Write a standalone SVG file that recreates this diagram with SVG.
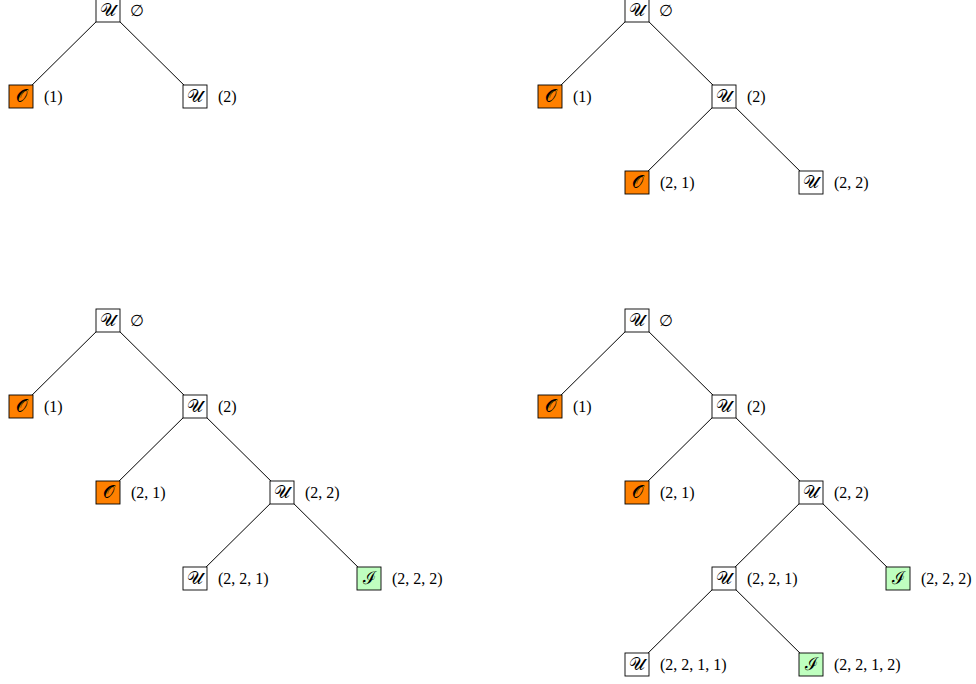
<svg xmlns="http://www.w3.org/2000/svg" width="976" height="684" viewBox="0 0 976 684">
<defs>
<style>
.e{stroke:#000;stroke-width:1;fill:none}
.b{fill:#fff;stroke:#000;stroke-width:0.9}
.o{fill:#ff8000;stroke:#000;stroke-width:0.9}
.g{fill:#bfffbf;stroke:#000;stroke-width:0.9}
.s{font-family:"DejaVu Serif","Liberation Serif",serif;font-size:18px;text-anchor:middle}
.l{font-family:"Liberation Serif","DejaVu Serif",serif;font-size:16px}
</style>
</defs>
<rect width="976" height="684" fill="#fff"/>
<g id="connectors">
<line class="e" x1="108" y1="10" x2="21" y2="96"/>
<line class="e" x1="108" y1="10" x2="195" y2="96"/>
<line class="e" x1="637" y1="10" x2="550" y2="96"/>
<line class="e" x1="637" y1="10" x2="724" y2="96"/>
<line class="e" x1="724" y1="96" x2="637" y2="182"/>
<line class="e" x1="724" y1="96" x2="811" y2="182"/>
<line class="e" x1="108" y1="320" x2="21" y2="406"/>
<line class="e" x1="108" y1="320" x2="195" y2="406"/>
<line class="e" x1="195" y1="406" x2="108" y2="492"/>
<line class="e" x1="195" y1="406" x2="282" y2="492"/>
<line class="e" x1="282" y1="492" x2="195" y2="578"/>
<line class="e" x1="282" y1="492" x2="369" y2="578"/>
<line class="e" x1="637" y1="320" x2="550" y2="406"/>
<line class="e" x1="637" y1="320" x2="724" y2="406"/>
<line class="e" x1="724" y1="406" x2="637" y2="492"/>
<line class="e" x1="724" y1="406" x2="811" y2="492"/>
<line class="e" x1="811" y1="492" x2="724" y2="578"/>
<line class="e" x1="811" y1="492" x2="898" y2="578"/>
<line class="e" x1="724" y1="578" x2="637" y2="664"/>
<line class="e" x1="724" y1="578" x2="811" y2="664"/>
</g>
<!-- tree 1 -->
<g id="t1-root"><rect class="b" x="96" y="-1" width="24" height="23"/><text class="s" x="108" y="16">𝒰</text><text class="l" x="130" y="16">∅</text></g>
<g id="t1-n1"><rect class="o" x="9" y="85" width="24" height="23"/><text class="s" x="21" y="102">𝒪</text><text class="l" x="44" y="102">(1)</text></g>
<g id="t1-n2"><rect class="b" x="183" y="85" width="24" height="23"/><text class="s" x="195" y="102">𝒰</text><text class="l" x="218" y="102">(2)</text></g>
<!-- tree 2 -->
<g id="t2-root"><rect class="b" x="625" y="-1" width="24" height="23"/><text class="s" x="637" y="16">𝒰</text><text class="l" x="659" y="16">∅</text></g>
<g id="t2-n1"><rect class="o" x="538" y="85" width="24" height="23"/><text class="s" x="550" y="102">𝒪</text><text class="l" x="573" y="102">(1)</text></g>
<g id="t2-n2"><rect class="b" x="712" y="85" width="24" height="23"/><text class="s" x="724" y="102">𝒰</text><text class="l" x="747" y="102">(2)</text></g>
<g id="t2-n21"><rect class="o" x="625" y="171" width="24" height="23"/><text class="s" x="637" y="188">𝒪</text><text class="l" x="660" y="188">(2, 1)</text></g>
<g id="t2-n22"><rect class="b" x="799" y="171" width="24" height="23"/><text class="s" x="811" y="188">𝒰</text><text class="l" x="834" y="188">(2, 2)</text></g>
<!-- tree 3 -->
<g id="t3-root"><rect class="b" x="96" y="309" width="24" height="23"/><text class="s" x="108" y="326">𝒰</text><text class="l" x="130" y="326">∅</text></g>
<g id="t3-n1"><rect class="o" x="9" y="395" width="24" height="23"/><text class="s" x="21" y="412">𝒪</text><text class="l" x="44" y="412">(1)</text></g>
<g id="t3-n2"><rect class="b" x="183" y="395" width="24" height="23"/><text class="s" x="195" y="412">𝒰</text><text class="l" x="218" y="412">(2)</text></g>
<g id="t3-n21"><rect class="o" x="96" y="481" width="24" height="23"/><text class="s" x="108" y="498">𝒪</text><text class="l" x="131" y="498">(2, 1)</text></g>
<g id="t3-n22"><rect class="b" x="270" y="481" width="24" height="23"/><text class="s" x="282" y="498">𝒰</text><text class="l" x="305" y="498">(2, 2)</text></g>
<g id="t3-n221"><rect class="b" x="183" y="567" width="24" height="23"/><text class="s" x="195" y="584">𝒰</text><text class="l" x="218" y="584">(2, 2, 1)</text></g>
<g id="t3-n222"><rect class="g" x="357" y="567" width="24" height="23"/><text class="s" x="369" y="584">ℐ</text><text class="l" x="392" y="584">(2, 2, 2)</text></g>
<!-- tree 4 -->
<g id="t4-root"><rect class="b" x="625" y="309" width="24" height="23"/><text class="s" x="637" y="326">𝒰</text><text class="l" x="659" y="326">∅</text></g>
<g id="t4-n1"><rect class="o" x="538" y="395" width="24" height="23"/><text class="s" x="550" y="412">𝒪</text><text class="l" x="573" y="412">(1)</text></g>
<g id="t4-n2"><rect class="b" x="712" y="395" width="24" height="23"/><text class="s" x="724" y="412">𝒰</text><text class="l" x="747" y="412">(2)</text></g>
<g id="t4-n21"><rect class="o" x="625" y="481" width="24" height="23"/><text class="s" x="637" y="498">𝒪</text><text class="l" x="660" y="498">(2, 1)</text></g>
<g id="t4-n22"><rect class="b" x="799" y="481" width="24" height="23"/><text class="s" x="811" y="498">𝒰</text><text class="l" x="834" y="498">(2, 2)</text></g>
<g id="t4-n221"><rect class="b" x="712" y="567" width="24" height="23"/><text class="s" x="724" y="584">𝒰</text><text class="l" x="747" y="584">(2, 2, 1)</text></g>
<g id="t4-n222"><rect class="g" x="886" y="567" width="24" height="23"/><text class="s" x="898" y="584">ℐ</text><text class="l" x="921" y="584">(2, 2, 2)</text></g>
<g id="t4-n2211"><rect class="b" x="625" y="653" width="24" height="23"/><text class="s" x="637" y="670">𝒰</text><text class="l" x="660" y="670">(2, 2, 1, 1)</text></g>
<g id="t4-n2212"><rect class="g" x="799" y="653" width="24" height="23"/><text class="s" x="811" y="670">ℐ</text><text class="l" x="834" y="670">(2, 2, 1, 2)</text></g>
</svg>
